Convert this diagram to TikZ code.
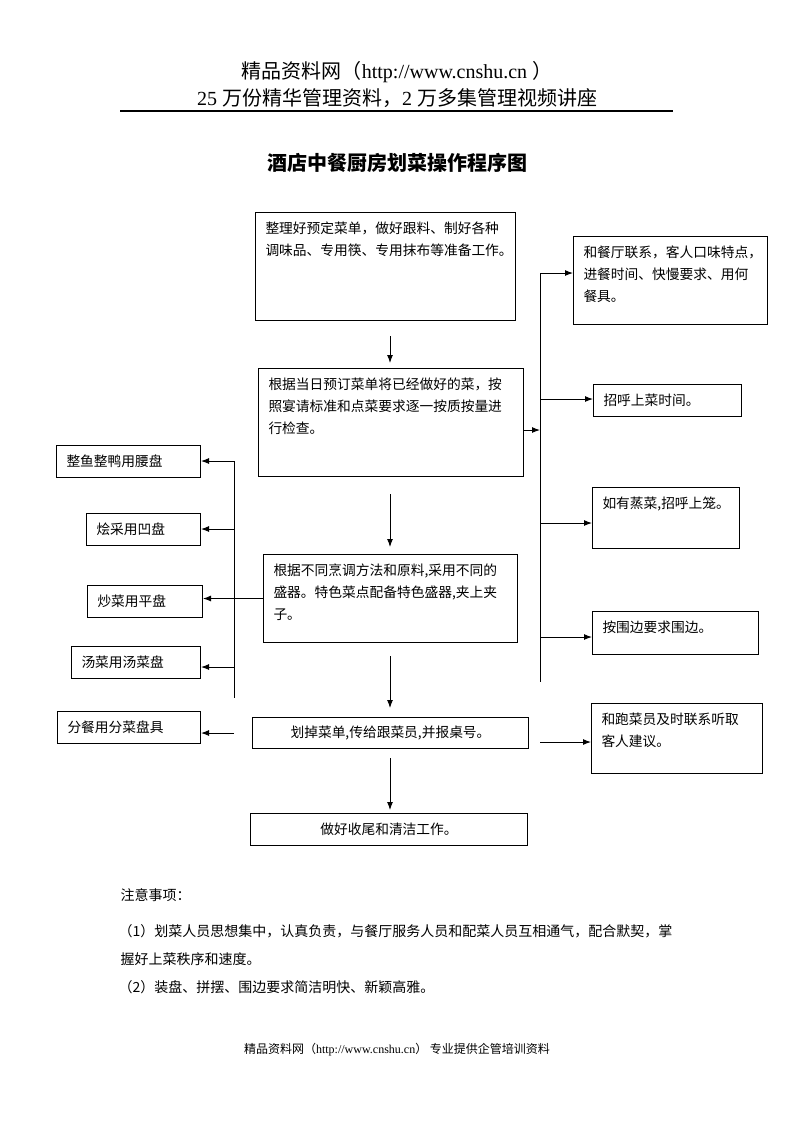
\documentclass[tikz,border=0pt]{standalone}
\usepackage{fontspec}
\setmainfont{Noto Sans CJK SC}
\newfontfamily\latin{Liberation Serif}
\usetikzlibrary{arrows.meta}
\newdimen\px \px=0.75pt
\XeTeXlinebreaklocale "zh"
\XeTeXlinebreakskip=0pt plus 4pt
\newcommand{\boxfont}{\fontsize{10.3}{16.5}\selectfont}

\begin{document}
\begin{tikzpicture}
[
x=0.75pt, y=-0.75pt,
>={Latex[length=6pt,width=4.5pt]},
line width=0.75pt,
boxtext/.style={anchor=north west, align=left, inner xsep=7.5pt, inner ysep=7pt, font=\boxfont},
stepbox/.style n args={3}{draw, anchor=north west, inner sep=0pt, minimum width=#1*\px, minimum height=#2*\px, label={[boxtext]north west:#3}},
endbox/.style 2 args={draw, anchor=north west, inner sep=0pt, minimum width=#1*\px, minimum height=#2*\px, font=\boxfont},
note/.style={anchor=west, inner sep=0pt, font=\fontsize{10.5}{14}\selectfont},
]
\useasboundingbox (0,0) rectangle (793,1122);

%Page head
\node[font=\fontsize{15}{18}\selectfont] (web) at (397,72) {精品资料网（{\latin http://www.cnshu.cn }）};
\node[font=\fontsize{15}{18}\selectfont] (slogan) at (397,98) {{\latin 25 }万份精华管理资料，{\latin 2 }万多集管理视频讲座};
\draw[line width=1pt] (120,111) -- (673,111);
\node[font=\fontsize{15}{18}\selectfont\bfseries] (title) at (397,163) {酒店中餐厨房划菜操作程序图};

%Main steps
\node[stepbox={260}{108}{整理好预定菜单，做好跟料、制好各种\\调味品、专用筷、专用抹布等准备工作。}] (prep) at (255,212) {};
\node[stepbox={265}{108}{根据当日预订菜单将已经做好的菜，按\\照宴请标准和点菜要求逐一按质按量进\\行检查。}] (check) at (258,368) {};
\node[stepbox={254}{88}{根据不同烹调方法和原料,采用不同的\\盛器。特色菜点配备特色盛器,夹上夹\\子。}] (dish) at (263,554) {};
\node[endbox={276}{31}] (mark) at (252,717) {划掉菜单,传给跟菜员,并报桌号。};
\node[endbox={277}{32}] (clean) at (250,813) {做好收尾和清洁工作。};

%Right column
\node[stepbox={194}{88}{和餐厅联系，客人口味特点，\\进餐时间、快慢要求、用何\\餐具。}] (contact) at (573,236) {};
\node[stepbox={148}{32}{招呼上菜时间。}] (call) at (593,384) {};
\node[stepbox={147}{61}{如有蒸菜,招呼上笼。}] (steam) at (592,487) {};
\node[stepbox={166}{43}{按围边要求围边。}] (edge) at (592,611) {};
\node[stepbox={171}{70}{和跑菜员及时联系听取\\客人建议。}] (feedback) at (591,703) {};

%Left column
\node[stepbox={144}{32}{整鱼整鸭用腰盘}] (fish) at (56,445) {};
\node[stepbox={114}{32}{烩采用凹盘}] (stew) at (86,513) {};
\node[stepbox={115}{32}{炒菜用平盘}] (fry) at (87,585) {};
\node[stepbox={129}{32}{汤菜用汤菜盘}] (soup) at (71,646) {};
\node[stepbox={143}{32}{分餐用分菜盘具}] (share) at (57,711) {};

%Draw the connections
\coordinate (ax) at (390,0);
\draw[->, shorten <=11.25pt, shorten >=3.75pt] (prep.south -| ax) -- (check.north -| ax);
\draw[->, shorten <=12.75pt, shorten >=5.25pt] (check.south -| ax) -- (dish.north -| ax);
\draw[->, shorten <=9.75pt, shorten >=6.75pt] (dish.south -| ax) -- (mark.north -| ax);
\draw[->, shorten <=6.75pt, shorten >=2.25pt] (mark.south -| ax) -- (clean.north -| ax);

\coordinate (rt) at (540,273);
\coordinate (rb) at (540,682);
\coordinate (rc) at (540,430);
\draw (rt) -- (rb);
\draw[->] (check.east |- rc) -- (rc);
\draw[->] (rt) -- (rt -| contact.west);
\foreach \y/\b in {399/call,523/steam,637/edge,742/feedback}
{
  \coordinate (tap-\b) at (540,\y);
  \draw[->] (tap-\b) -- (tap-\b -| \b.west);
}

\coordinate (lt) at (234,461);
\coordinate (lb) at (234,698);
\draw (lt) -- (lb);
\draw (dish.west) -- (dish.west -| lt);
\draw[->] (lt) -- (lt -| fish.east);
\draw[->] (dish.west -| lt) -- (dish.west -| fry.east);
\foreach \y/\b in {529/stew,667/soup,733/share}
{
  \coordinate (tap-\b) at (234,\y);
  \draw[->] (tap-\b) -- (tap-\b -| \b.east);
}

%Notes
\node[note] (nhead) at (120,895) {注意事项：};
\node[note, text width=416.25pt, align=justify] (n1) at (118,931) {\parfillskip=0pt （1）划菜人员思想集中，认真负责，与餐厅服务人员和配菜人员互相通气，配合默契，掌};
\node[note] (n1b) at (120,959) {握好上菜秩序和速度。};
\node[note] (n2) at (118,987) {（2）装盘、拼摆、围边要求简洁明快、新颖高雅。};

%Page foot
\node[font=\fontsize{9}{11}\selectfont] (foot) at (397,1050) {精品资料网（{\latin http://www.cnshu.cn}） 专业提供企管培训资料};
\end{tikzpicture}
\end{document}
